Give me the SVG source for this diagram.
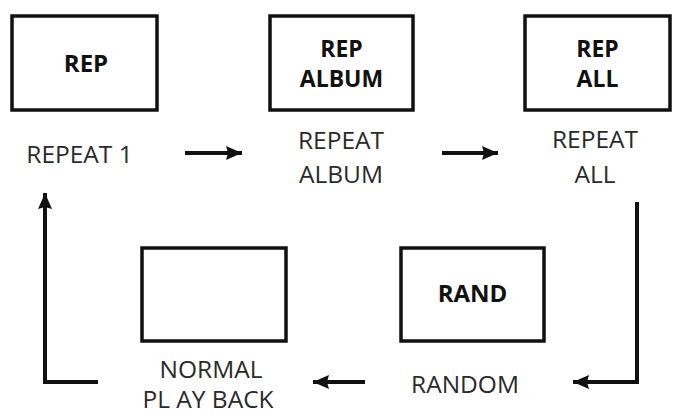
<svg xmlns="http://www.w3.org/2000/svg" width="679" height="418" viewBox="0 0 679 418">
<defs>
<style>
.box{fill:none;stroke:#111;stroke-width:3.5}
.bt{font-family:"Open Sans","Liberation Sans",sans-serif;font-weight:bold;font-size:23px;fill:#111;text-anchor:middle}
.lt{font-family:"Open Sans","Liberation Sans",sans-serif;font-size:24.5px;fill:#2a2a2a;text-anchor:middle}
.con{fill:none;stroke:#111;stroke-width:4;stroke-linejoin:miter}
</style>
<marker id="ah" markerUnits="userSpaceOnUse" markerWidth="18" markerHeight="16" refX="16" refY="8" orient="auto">
<path d="M0,1 L16,8 L0,15 L2,8 Z" fill="#111"/>
</marker>
</defs>
<rect width="679" height="418" fill="#fff"/>
<g id="node-rep">
<rect class="box" x="12" y="16" width="145" height="94"/>
<text class="bt" x="86" y="72" style="font-size:24px">REP</text>
<text class="lt" x="79.5" y="163">REPEAT 1</text>
</g>
<g id="node-rep-album">
<rect class="box" x="270" y="16" width="143" height="94"/>
<text class="bt" x="341.5" y="57">REP</text>
<text class="bt" x="341.5" y="86.5">ALBUM</text>
<text class="lt" x="341" y="149">REPEAT</text>
<text class="lt" x="341" y="183">ALBUM</text>
</g>
<g id="node-rep-all">
<rect class="box" x="525" y="16" width="145" height="94"/>
<text class="bt" x="597.5" y="57">REP</text>
<text class="bt" x="597.5" y="87">ALL</text>
<text class="lt" x="595" y="148">REPEAT</text>
<text class="lt" x="595" y="183">ALL</text>
</g>
<g id="node-rand">
<rect class="box" x="401" y="248" width="143" height="93"/>
<text class="bt" x="472.5" y="302" style="font-size:24px">RAND</text>
<text class="lt" x="465" y="393">RANDOM</text>
</g>
<g id="node-normal">
<rect class="box" x="142" y="248" width="144" height="93"/>
<text class="lt" x="211" y="378">NORMAL</text>
<text class="lt" x="208" y="408">PL AY BACK</text>
</g>
<g id="connectors">
<path class="con" d="M185,153 H242" marker-end="url(#ah)"/>
<path class="con" d="M442,153 H498" marker-end="url(#ah)"/>
<path class="con" d="M637,202 V382 H573" marker-end="url(#ah)"/>
<path class="con" d="M365,382 H313" marker-end="url(#ah)"/>
<path class="con" d="M98,382 H45 V193" marker-end="url(#ah)"/>
</g>
</svg>
